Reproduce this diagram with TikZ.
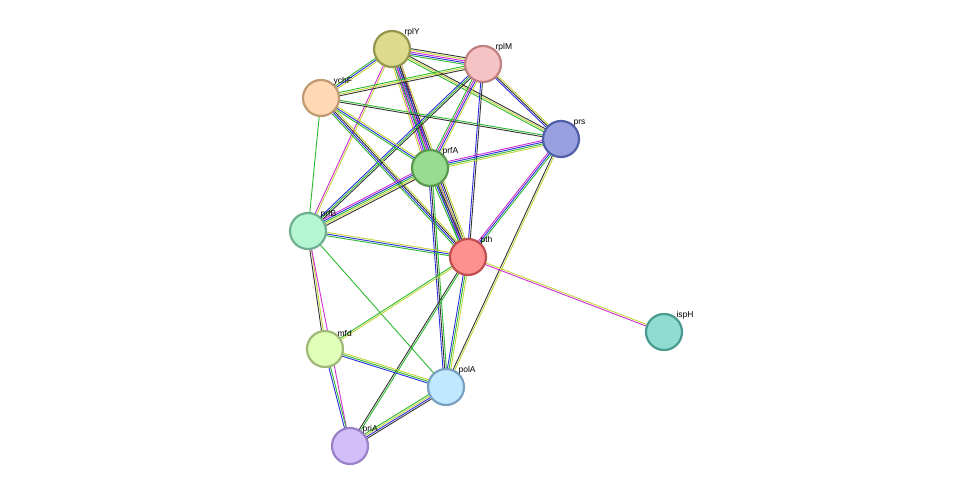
\documentclass[tikz,border=0pt]{standalone}
\usepackage{fontspec}
\setmainfont{Liberation Sans}
\usetikzlibrary{calc}
\definecolor{egreen}{HTML}{2DB82D}
\definecolor{eblue}{HTML}{2C2CE0}
\definecolor{eblack}{HTML}{333333}
\definecolor{emag}{HTML}{D02CD0}
\definecolor{eyel}{HTML}{C4D43A}
\tikzset{
  prot/.style={circle,minimum size=36pt,inner sep=0pt,line width=2.2pt},
  lbl/.style={font=\fontsize{8.5}{10}\selectfont,inner sep=1pt,label distance=-3pt},
  ln/.style={line width=0.9pt}
}
% n parallel lines between two coordinates
\newcommand\linkab[4]{%
  \foreach \c [count=\i] in {#4} {%
    \pgfmathsetmacro\off{(\i-(#3+1)/2)*1.7}
    \draw[ln,\c] ($(#1)!\off pt!90:(#2)$) -- ($(#2)!\off pt!-90:(#1)$);
  }}
\begin{document}
\begin{tikzpicture}[x=1pt,y=-1pt]
\useasboundingbox (0,0) rectangle (976,492);

\coordinate (rplY) at (392,49);
\coordinate (rplM) at (483,64);
\coordinate (ychF) at (321,98);
\coordinate (prs) at (561,139);
\coordinate (prfA) at (430,168);
\coordinate (prfB) at (308,231);
\coordinate (pth) at (468,257);
\coordinate (ispH) at (664,332);
\coordinate (mfd) at (325,349);
\coordinate (polA) at (446,387);
\coordinate (priA) at (350,446);

\linkab{rplY}{rplM}{5}{egreen,eblue,emag,eyel,eblack}
\linkab{rplY}{ychF}{3}{egreen,eblue,eyel}
\linkab{rplY}{prs}{3}{egreen,eyel,eblack}
\linkab{rplY}{prfA}{6}{eyel,emag,eblue,egreen,eblack,emag}
\linkab{rplY}{prfB}{2}{emag,eyel}
\linkab{rplY}{pth}{5}{egreen,emag,eblue,eblack,eyel}
\linkab{rplM}{ychF}{3}{egreen,eyel,eblack}
\linkab{rplM}{prs}{3}{eblue,eblack,eyel}
\linkab{rplM}{prfA}{4}{egreen,emag,eblue,eyel}
\linkab{rplM}{prfB}{3}{eblue,egreen,eblack}
\linkab{rplM}{pth}{2}{eblue,eblack}
\linkab{ychF}{prs}{2}{eblack,egreen}
\linkab{ychF}{prfA}{3}{egreen,eblue,eyel}
\linkab{ychF}{pth}{4}{egreen,eblue,eblack,eyel}
\linkab{ychF}{prfB}{1}{egreen}
\linkab{prs}{prfA}{4}{emag,eblue,egreen,eyel}
\linkab{prs}{pth}{3}{emag,eblue,egreen}
\linkab{prs}{polA}{2}{eblack,eyel}
\linkab{prfA}{prfB}{5}{emag,eblue,egreen,eyel,eblack}
\linkab{prfA}{pth}{4}{egreen,eblue,eblack,eyel}
\linkab{prfA}{polA}{3}{eblue,eblack,egreen}
\linkab{prfB}{pth}{3}{egreen,eblue,eyel}
\linkab{prfB}{mfd}{2}{eblack,eyel}
\linkab{prfB}{polA}{1}{egreen}
\linkab{prfB}{priA}{1}{emag}
\linkab{pth}{ispH}{2}{emag,eyel}
\linkab{pth}{mfd}{2}{egreen,eyel}
\linkab{pth}{polA}{3}{eblue,egreen,eyel}
\linkab{pth}{priA}{2}{eblack,egreen}
\linkab{mfd}{polA}{3}{eblue,egreen,eyel}
\linkab{mfd}{priA}{2}{eblue,egreen}
\linkab{polA}{priA}{4}{egreen,eyel,eblue,eblack}

\node[prot,fill={rgb,255:red,220;green,220;blue,140},draw={rgb,255:red,150;green,150;blue,80},label={[lbl]45:rplY}] (nrplY) at (rplY) {};
\node[prot,fill={rgb,255:red,245;green,195;blue,195},draw={rgb,255:red,192;green,128;blue,128},label={[lbl]45:rplM}] (nrplM) at (rplM) {};
\node[prot,fill={rgb,255:red,255;green,216;blue,180},draw={rgb,255:red,192;green,154;blue,112},label={[lbl]45:ychF}] (nychF) at (ychF) {};
\node[prot,fill={rgb,255:red,152;green,160;blue,224},draw={rgb,255:red,80;green,96;blue,168},label={[lbl]45:prs}] (nprs) at (prs) {};
\node[prot,fill={rgb,255:red,152;green,220;blue,144},draw={rgb,255:red,90;green,154;blue,80},label={[lbl]45:prfA}] (nprfA) at (prfA) {};
\node[prot,fill={rgb,255:red,180;green,245;blue,210},draw={rgb,255:red,112;green,176;blue,144},label={[lbl]45:prfB}] (nprfB) at (prfB) {};
\node[prot,fill={rgb,255:red,255;green,144;blue,144},draw={rgb,255:red,192;green,80;blue,80},label={[lbl]45:pth}] (npth) at (pth) {};
\node[prot,fill={rgb,255:red,144;green,220;blue,208},draw={rgb,255:red,74;green,154;blue,144},label={[lbl]45:ispH}] (nispH) at (ispH) {};
\node[prot,fill={rgb,255:red,224;green,255;blue,184},draw={rgb,255:red,160;green,184;blue,120},label={[lbl]45:mfd}] (nmfd) at (mfd) {};
\node[prot,fill={rgb,255:red,192;green,232;blue,255},draw={rgb,255:red,122;green,160;blue,192},label={[lbl]45:polA}] (npolA) at (polA) {};
\node[prot,fill={rgb,255:red,210;green,190;blue,248},draw={rgb,255:red,154;green,128;blue,200},label={[lbl]45:priA}] (npriA) at (priA) {};
\end{tikzpicture}
\end{document}
